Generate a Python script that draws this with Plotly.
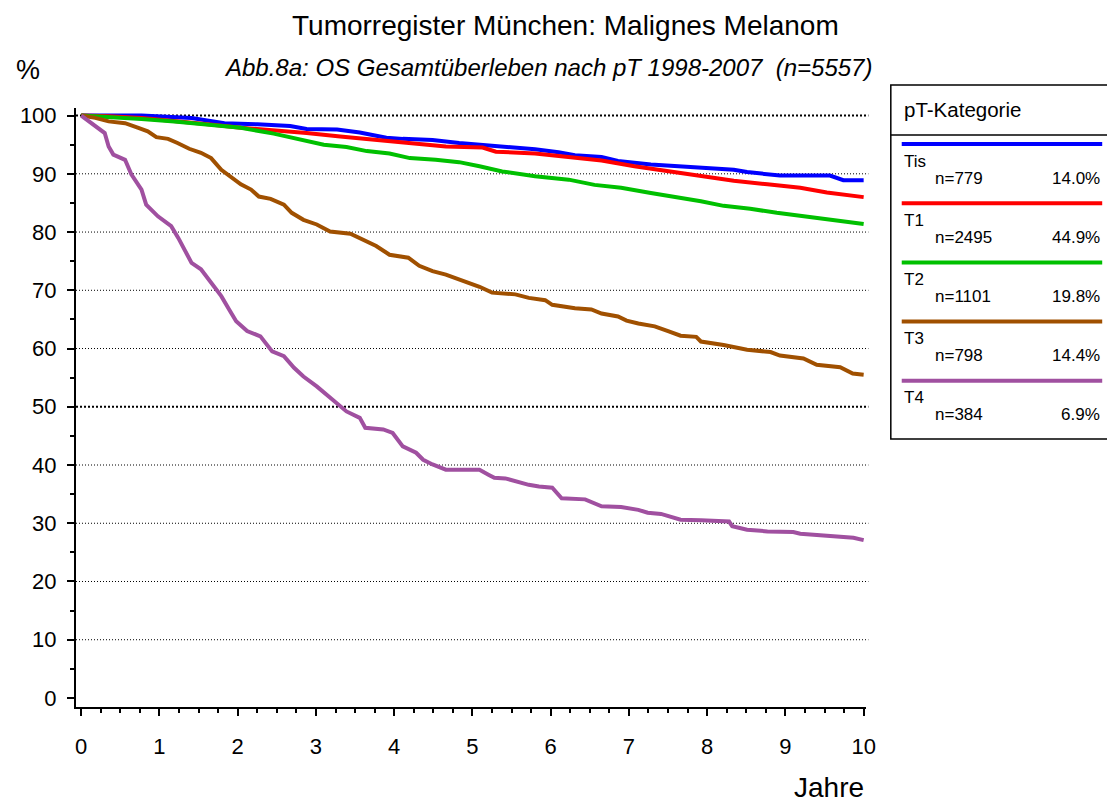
import plotly.graph_objects as go

# Survival curves (years, % alive)
tis_x = [0, 0.77, 1.41, 1.83, 2.25, 2.67, 2.88, 3.27, 3.56, 3.82, 3.90, 4.11, 4.49, 4.83,
         5.21, 5.80, 6.10, 6.31, 6.65, 6.86, 7.28, 7.88, 8.34, 8.51, 8.93, 9.57, 9.74, 10.0]
tis_y = [100, 100, 99.6, 98.7, 98.5, 98.2, 97.7, 97.6, 97.1, 96.3, 96.2, 96.0, 95.8, 95.3,
         94.9, 94.2, 93.7, 93.2, 92.9, 92.2, 91.6, 91.0, 90.7, 90.3, 89.7, 89.7, 88.9, 88.9]

t1_x = [0, 0.35, 0.77, 1.19, 1.62, 2.04, 2.46, 2.88, 3.31, 3.73, 4.11, 4.24, 4.66, 5.13,
        5.30, 5.80, 6.23, 6.65, 7.07, 7.50, 7.92, 8.34, 8.77, 9.19, 9.53, 10.0]
t1_y = [100, 99.9, 99.6, 99.1, 98.5, 97.9, 97.5, 97.0, 96.4, 95.9, 95.5, 95.2, 94.7, 94.5,
        93.8, 93.5, 92.9, 92.3, 91.3, 90.4, 89.6, 88.8, 88.2, 87.6, 86.8, 86.0]

t2_x = [0, 0.35, 0.77, 1.19, 1.62, 2.04, 2.46, 2.84, 3.10, 3.39, 3.65, 3.94, 4.20, 4.53,
        4.83, 5.09, 5.38, 5.80, 6.23, 6.56, 6.90, 7.28, 7.62, 7.92, 8.21, 8.55, 8.89, 9.27,
        9.61, 10.0]
t2_y = [100, 99.8, 99.4, 99.0, 98.5, 97.9, 96.9, 95.8, 95.0, 94.6, 93.9, 93.5, 92.7, 92.4,
        92.0, 91.3, 90.4, 89.6, 89.0, 88.1, 87.6, 86.7, 86.0, 85.3, 84.5, 84.0, 83.3, 82.7,
        82.0, 81.4]

t3_x = [0, 0.18, 0.35, 0.56, 0.73, 0.85, 0.96, 1.11, 1.23, 1.38, 1.53, 1.66, 1.79, 1.91,
        2.04, 2.17, 2.27, 2.42, 2.59, 2.69, 2.84, 3.01, 3.18, 3.44, 3.60, 3.77, 3.94, 4.18,
        4.32, 4.49, 4.66, 4.85, 4.98, 5.09, 5.25, 5.55, 5.72, 5.93, 6.02, 6.31, 6.52, 6.65,
        6.86, 6.97, 7.12, 7.33, 7.50, 7.66, 7.86, 7.92, 8.21, 8.51, 8.81, 8.93, 9.23, 9.40,
        9.70, 9.86, 10.0]
t3_y = [100, 99.6, 99.0, 98.7, 97.9, 97.3, 96.3, 96.0, 95.3, 94.3, 93.6, 92.7, 90.7, 89.6,
        88.2, 87.3, 86.1, 85.7, 84.7, 83.3, 82.1, 81.3, 80.1, 79.7, 78.6, 77.6, 76.1, 75.6,
        74.2, 73.3, 72.7, 71.8, 71.1, 70.6, 69.6, 69.3, 68.7, 68.3, 67.5, 66.9, 66.7, 66.0,
        65.5, 64.8, 64.3, 63.8, 63.0, 62.2, 62.0, 61.2, 60.6, 59.8, 59.4, 58.8, 58.3, 57.2,
        56.8, 55.7, 55.5]

t4_x = [0, 0.30, 0.35, 0.41, 0.56, 0.64, 0.77, 0.83, 0.98, 1.15, 1.24, 1.32, 1.41, 1.53,
        1.66, 1.79, 1.89, 1.98, 2.12, 2.29, 2.44, 2.59, 2.72, 2.84, 3.01, 3.27, 3.39, 3.56,
        3.63, 3.86, 3.98, 4.11, 4.28, 4.37, 4.49, 4.66, 5.09, 5.21, 5.28, 5.42, 5.55, 5.72,
        5.85, 6.02, 6.14, 6.44, 6.65, 6.90, 7.12, 7.24, 7.41, 7.50, 7.66, 7.92, 8.28, 8.32,
        8.51, 8.77, 9.10, 9.19, 9.48, 9.70, 9.87, 10.0]
t4_y = [100, 97.0, 94.7, 93.3, 92.4, 89.9, 87.3, 84.7, 82.7, 81.0, 79.0, 77.0, 74.7, 73.6,
        71.3, 69.0, 66.7, 64.7, 63.0, 62.1, 59.5, 58.7, 56.7, 55.2, 53.5, 50.7, 49.2, 48.1,
        46.4, 46.1, 45.5, 43.2, 42.1, 40.9, 40.1, 39.2, 39.2, 38.3, 37.8, 37.7, 37.2, 36.6,
        36.3, 36.1, 34.3, 34.1, 32.9, 32.8, 32.3, 31.8, 31.6, 31.2, 30.6, 30.5, 30.3, 29.5,
        28.9, 28.6, 28.5, 28.2, 27.9, 27.6, 27.5, 27.1]

categories = ["Tis", "T1", "T2", "T3", "T4"]
counts = ["n=779", "n=2495", "n=1101", "n=798", "n=384"]
shares = ["14.0%", "44.9%", "19.8%", "14.4%", "6.9%"]
colors = ["#0000ff", "#ff0000", "#00c000", "#a05000", "#a050a0"]
series = [(tis_x, tis_y), (t1_x, t1_y), (t2_x, t2_y), (t3_x, t3_y), (t4_x, t4_y)]

# the page body has an 8px margin, so the figure is made 8px smaller
OFF = 8
W, H = 1115 - OFF, 803 - OFF
L, R, T, B = 70 - OFF, 249, 108 - OFF, 96
PW, PH = W - L - R, H - T - B
FONT = "Liberation Sans, Arial, sans-serif"


def px(x):
    # window pixel -> paper x
    return (x - OFF - L) / PW


def py(y):
    # window pixel -> paper y
    return (H - B - (y - OFF)) / PH


fig = go.Figure()
for name, (xs, ys), col in zip(categories, series, colors):
    fig.add_trace(go.Scatter(x=xs, y=ys, mode="lines", name=name,
                             line=dict(color=col, width=4), showlegend=False))

shapes = []
# dotted grid lines
for v in range(10, 101, 10):
    bold = v in (50, 100)
    shapes.append(dict(type="line", xref="paper", yref="y", x0=0, x1=1.003, y0=v, y1=v,
                       layer="below",
                       line=dict(color="black", width=2 if bold else 1,
                                 dash="2px,2px" if bold else "1px,2px")))

# legend box
shapes.append(dict(type="rect", xref="paper", yref="paper", x0=px(891), x1=px(1113),
                   y0=py(85), y1=py(439), line=dict(color="black", width=1.5)))
shapes.append(dict(type="line", xref="paper", yref="paper", x0=px(891), x1=px(1113),
                   y0=py(135), y1=py(135), line=dict(color="black", width=1.5)))

annotations = [
    dict(text="Tumorregister München: Malignes Melanom", x=px(563), y=py(OFF),
         yanchor="top", font=dict(size=28, color="black")),
    dict(text="<i>Abb.8a: OS Gesamtüberleben nach pT 1998-2007&nbsp; (n=5557)</i>",
         x=px(546), y=py(67), font=dict(size=24, color="black")),
    dict(text="%", x=px(22), y=py(70), font=dict(size=27, color="black")),
    dict(text="Jahre", x=px(866), y=py(787), xanchor="right", font=dict(size=28, color="black")),
    dict(text="pT-Kategorie", x=px(902), y=py(110), xanchor="left",
         font=dict(size=20.5, color="black")),
]

for i, (cat, n, pct, col) in enumerate(zip(categories, counts, shares, colors)):
    ly = 144 + i * 59.2
    shapes.append(dict(type="line", xref="paper", yref="paper", x0=px(902), x1=px(1104),
                       y0=py(ly), y1=py(ly), line=dict(color=col, width=4)))
    annotations.append(dict(text=cat, x=px(902), y=py(ly + 17), xanchor="left",
                            font=dict(size=17, color="black")))
    annotations.append(dict(text=n, x=px(934), y=py(ly + 34), xanchor="left",
                            font=dict(size=17, color="black")))
    annotations.append(dict(text=pct, x=px(1104), y=py(ly + 34), xanchor="right",
                            font=dict(size=17, color="black")))

for a in annotations:
    a.update(xref="paper", yref="paper", showarrow=False)
    a.setdefault("xanchor", "center")
    a.setdefault("yanchor", "middle")

fig.update_layout(
    width=W, height=H, autosize=False,
    margin=dict(l=L, r=R, t=T, b=B, pad=0),
    paper_bgcolor="white", plot_bgcolor="rgba(0,0,0,0)",
    font=dict(family=FONT, color="black"),
    shapes=shapes, annotations=annotations,
    showlegend=False,
    xaxis=dict(range=[-0.067, 10.03], tickmode="linear", tick0=0, dtick=1,
               ticks="outside", ticklen=7, tickwidth=2, tickcolor="black",
               minor=dict(tick0=0, dtick=0.25, ticks="outside", ticklen=4, tickwidth=1.5,
                          tickcolor="black"),
               showline=True, linewidth=2, linecolor="black", showgrid=False,
               zeroline=False, tickfont=dict(size=22), ticklabelstandoff=12),
    yaxis=dict(range=[-1.55, 101.3], tickmode="linear", tick0=0, dtick=10,
               ticks="outside", ticklen=7, tickwidth=2, tickcolor="black",
               minor=dict(tick0=0, dtick=5, ticks="outside", ticklen=4, tickwidth=1.5,
                          tickcolor="black"),
               showline=True, linewidth=2, linecolor="black", showgrid=False,
               zeroline=False, tickfont=dict(size=22), ticklabelstandoff=6),
)

fig.write_html("out.html")
